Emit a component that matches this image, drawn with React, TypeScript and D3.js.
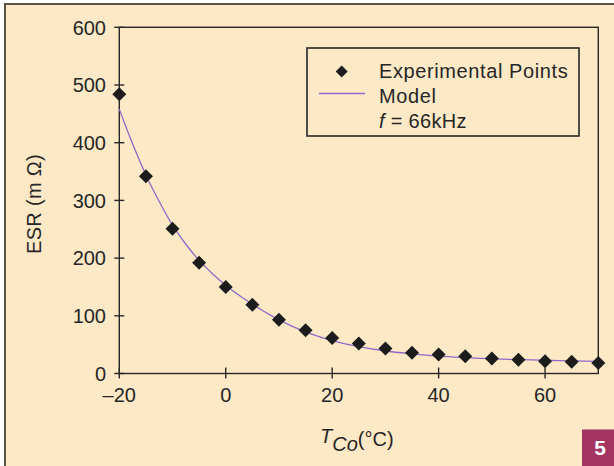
import React from "react";
import * as d3 from "d3";

const expTemps = [-20, -15, -10, -5, 0, 5, 10, 15, 20, 25, 30, 35, 40, 45, 50, 55, 60, 65, 70];
const expESR = [484, 342, 251, 192, 150, 119, 93, 75, 61.5, 52, 43.3, 36, 33, 30, 26, 24, 21.3, 20.5, 18];
const modelTemps = [-20, -17.5, -15, -12.5, -10, -7.5, -5, -2.5, 0, 5, 10, 15, 20, 25, 30, 35, 40, 45, 50, 55, 60, 65, 70];
const modelESR = [458, 398, 344, 298, 257, 224, 196, 173, 153, 120, 93, 72, 57, 46.5, 39, 34, 30, 27.5, 25.5, 24, 23, 22, 21];
const xTicks = [-20, 0, 20, 40, 60];
const yTicks = [0, 100, 200, 300, 400, 500, 600];
const legendLabels = ["Experimental Points", "Model"];

const W = 614, H = 466;
const FONT = "'Liberation Sans', Arial, Helvetica, sans-serif";
const BG = "#FDE9C6";
const INK = "#262626";
const LINE = "#8C6CC8";

export default function App() {
  const x = d3.scaleLinear().domain([-20, 70]).range([119.3, 598.3]);
  const y = d3.scaleLinear().domain([0, 600]).range([373.5, 27.3]);
  const line = d3.line<number>()
    .x((_, i) => x(modelTemps[i]))
    .y((d) => y(d))
    .curve(d3.curveMonotoneX);
  const diamond = (cx: number, cy: number, r: number) =>
    `M${cx},${cy - r}L${cx + r},${cy}L${cx},${cy + r}L${cx - r},${cy}Z`;

  const x0 = x.range()[0], x1 = x.range()[1];
  const y0 = y.range()[0], y1 = y.range()[1];

  return (
    <svg width={W} height={H} style={{ position: "absolute", left: 0, top: 0 }} fontFamily={FONT}>
      <rect x={0} y={0} width={W} height={H} fill="#ffffff" />
      <rect x={5} y={4} width={W + 10} height={H + 10} fill={BG} stroke="#5b5346" strokeWidth={2} />

      {/* plot frame */}
      <rect x={x0} y={y1} width={x1 - x0} height={y0 - y1} fill="none" stroke={INK} strokeWidth={1.4} />

      {/* y ticks */}
      {yTicks.map((t) => (
        <g key={"y" + t}>
          <line x1={x0 - 5} x2={x0 + 5} y1={y(t)} y2={y(t)} stroke={INK} strokeWidth={1.4} />
          <text x={106} y={y(t)} dy="0.36em" textAnchor="end" fontSize={20} fill={INK}>
            {t}
          </text>
        </g>
      ))}

      {/* x ticks */}
      {xTicks.map((t) => (
        <g key={"x" + t}>
          <line x1={x(t)} x2={x(t)} y1={y0 - 6} y2={y0 + 5} stroke={INK} strokeWidth={1.4} />
          <text x={x(t)} y={402} textAnchor="middle" fontSize={20} fill={INK}>
            {t < 0 ? "\u2013" + Math.abs(t) : String(t)}
          </text>
        </g>
      ))}

      {/* model line */}
      <path d={line(modelESR) || ""} fill="none" stroke={LINE} strokeWidth={1.3} />

      {/* experimental points */}
      {expESR.map((v, i) => (
        <path key={"p" + i} d={diamond(x(expTemps[i]), y(v), 7)} fill="#1c1c1c" />
      ))}

      {/* legend */}
      <rect x={307} y={48} width={272} height={88} fill="none" stroke={INK} strokeWidth={1.6} />
      <path d={diamond(341.7, 71.5, 6)} fill="#1c1c1c" />
      <line x1={319} x2={365} y1={93.5} y2={93.5} stroke={LINE} strokeWidth={1.3} />
      <text x={379} y={77.5} fontSize={20} fill={INK} letterSpacing={0.6}>{legendLabels[0]}</text>
      <text x={379} y={102.5} fontSize={20} fill={INK} letterSpacing={0.6}>{legendLabels[1]}</text>
      <text x={379} y={127.5} fontSize={20} fill={INK} letterSpacing={0.3}>
        <tspan fontStyle="italic">f</tspan>
        <tspan> = 66kHz</tspan>
      </text>

      {/* y axis title */}
      <text transform="translate(41,204) rotate(-90)" textAnchor="middle" fontSize={20} fill={INK} letterSpacing={0.3}>
        ESR (m Ω)
      </text>

      {/* x axis title */}
      <text x={320} y={443} fontSize={20} fill={INK}>
        <tspan fontStyle="italic">T</tspan>
        <tspan fontStyle="italic" dy={8}>Co</tspan>
        <tspan dy={-5}>(°C)</tspan>
      </text>

      {/* figure number badge */}
      <rect x={582} y={429.5} width={40} height={40} fill="#A43462" />
      <text x={600} y={455} textAnchor="middle" fontSize={21} fontWeight="bold" fill="#ffffff">5</text>
    </svg>
  );
}
